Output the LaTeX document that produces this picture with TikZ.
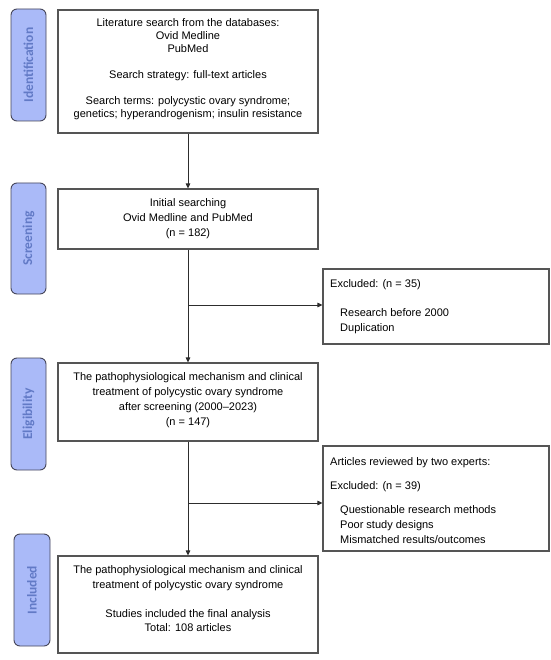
\documentclass[tikz,border=0pt]{standalone}
\usepackage{fontspec}
\setmainfont{Liberation Sans}
\newfontfamily\sidefont{Carlito}
\usetikzlibrary{arrows.meta}
\definecolor{sidefill}{RGB}{170,186,248}
\definecolor{sidetext}{RGB}{98,122,198}
\definecolor{sideline}{RGB}{70,70,90}
\definecolor{boxline}{RGB}{85,85,85}
\definecolor{connline}{RGB}{45,45,45}
\begin{document}
\begin{tikzpicture}[x=1pt,y=-1pt,
  box/.style={draw=boxline, line width=1.1pt, inner sep=0pt},
  txt/.style={inner sep=0pt, align=center, font=\fontsize{11}{15}\selectfont},
  ltxt/.style={inner sep=0pt, align=left, anchor=west, font=\fontsize{11}{14.7}\selectfont},
  side/.style={draw=sideline, fill=sidefill, rounded corners=6pt, line width=0.9pt, inner sep=0pt},
  sidetxt/.style={inner sep=0pt, rotate=90, text=sidetext, font=\sidefont\bfseries\fontsize{13.5}{14}\selectfont},
  conn/.style={draw=connline, line width=0.9pt},
  arr/.style={conn, -{Triangle[length=5pt,width=4.5pt]}}]
\useasboundingbox (0,0) rectangle (550,660);
\fill[white] (0,0) rectangle (550,660);

% side labels
\node[side, minimum width=35pt, minimum height=112pt] (s1) at (28.5,65) {};
\node[sidetxt] (s1t) at (s1.center) {Identification};
\node[side, minimum width=35pt, minimum height=111pt] (s2) at (28.5,238.5) {};
\node[sidetxt] (s2t) at (s2.center) {Screening};
\node[side, minimum width=35pt, minimum height=112pt] (s3) at (28.5,414) {};
\node[sidetxt] (s3t) at (s3.center) {Eligibility};
\node[side, minimum width=36pt, minimum height=112pt] (s4) at (32,590) {};
\node[sidetxt] (s4t) at (s4.center) {Included};

% main boxes
\node[box, minimum width=260pt, minimum height=123pt] (b1) at (188,71.5) {};
\node[txt, font=\fontsize{11}{13}\selectfont] (b1t) at (188,69.5) {Literature search from the databases:\\Ovid Medline\\PubMed\\[13pt]Search strategy: full-text articles\\[13pt]Search terms: polycystic ovary syndrome;\\genetics; hyperandrogenism; insulin resistance};

\node[box, minimum width=260pt, minimum height=60pt] (b2) at (188,219) {};
\node[txt] (b2t) at (188,218.3) {Initial searching\\Ovid Medline and PubMed\\(n = 182)};

\node[box, minimum width=260pt, minimum height=78pt] (b3) at (188,402) {};
\node[txt] (b3t) at (188,400.5) {The pathophysiological mechanism and clinical\\treatment of polycystic ovary syndrome\\after screening (2000--2023)\\(n = 147)};

\node[box, minimum width=260pt, minimum height=97pt] (b4) at (188,604.5) {};
\node[txt, font=\fontsize{11}{14.5}\selectfont] (b4t) at (188,599) {The pathophysiological mechanism and clinical\\treatment of polycystic ovary syndrome\\[14.5pt]Studies included the final analysis\\Total: 108 articles};

% exclusion boxes
\node[box, minimum width=226pt, minimum height=75pt] (e1) at (436,306.5) {};
\node[ltxt] (e1t) at (330,306.3) {Excluded: (n = 35)\\[14.5pt]\hspace*{10pt}Research before 2000\\\hspace*{10pt}Duplication};

\node[box, minimum width=226pt, minimum height=105pt] (e2) at (436,498.5) {};
\node[ltxt] (e2t) at (330,500.5) {Articles reviewed by two experts:\\[9pt]Excluded: (n = 39)\\[10pt]\hspace*{10pt}Questionable research methods\\\hspace*{10pt}Poor study designs\\\hspace*{10pt}Mismatched results/outcomes};

% connectors
\draw[arr] (b1.south) -- (b2.north);
\draw[arr] (b2.south) -- (b3.north);
\coordinate (j1) at (188,305);
\draw[arr] (j1) -- (j1 -| e1.west);
\draw[arr] (b3.south) -- (b4.north);
\coordinate (j2) at (188,503);
\draw[arr] (j2) -- (j2 -| e2.west);
\end{tikzpicture}
\end{document}
